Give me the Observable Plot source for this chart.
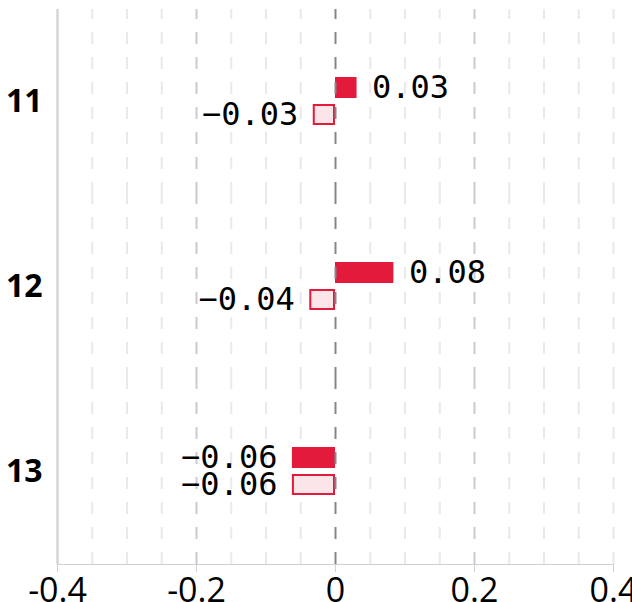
<!DOCTYPE html>
<html>
<head>
<meta charset="utf-8">
<script src="https://cdn.jsdelivr.net/npm/d3@7"></script>
<script src="https://cdn.jsdelivr.net/npm/@observablehq/plot@0.6"></script>
<style>
  html, body { margin: 0; padding: 0; background: #fff; }
  #chart svg { display: block; overflow: visible; }
  [aria-label^="fy-axis"] text { font-family: "Open Sans", sans-serif; font-weight: 700; font-size: 32px; fill: #000; }
  [aria-label^="x-axis"] text { font-family: "Open Sans", sans-serif; font-size: 34px; fill: #000; }
</style>
</head>
<body>
<div id="chart"></div>
<script>
// categories (row labels)
const categories = ["11", "12", "13"];
// series names
const seriesNames = ["A", "B"];
// values
const seriesA = [0.031, 0.084, -0.062];
const seriesB = [-0.032, -0.037, -0.062];
// axis ticks and grid lines
const xTicks = [-0.4, -0.2, 0, 0.2, 0.4];
const gridMinor = [-0.35, -0.3, -0.25, -0.15, -0.1, -0.05, 0.05, 0.1, 0.15, 0.25, 0.3, 0.35, 0.4];
const gridMajor = [-0.2, 0.2];
const gridZero = [0];
const frameLeft = [-0.4];

const rows = [];
categories.forEach((c, i) => {
  rows.push({cat: c, series: seriesNames[0], value: seriesA[i]});
  rows.push({cat: c, series: seriesNames[1], value: seriesB[i]});
});

const red = "#e31a3b";
const pink = "#fce5e9";
const fmt = d3.format(".2f");
const dash = "12,13";

const chart = Plot.plot({
  width: 632,
  height: 602,
  marginTop: 8,
  marginBottom: 38,
  marginLeft: 57,
  marginRight: 19,
  style: {background: "transparent", overflow: "visible", color: "#d0d0d6"},
  facet: {data: rows, y: "cat"},
  fy: {domain: categories, padding: 0, axis: "left", label: null, tickSize: 0, tickPadding: 15},
  x: {domain: [-0.4, 0.4], ticks: xTicks, tickFormat: d => String(d), tickSize: 8, tickPadding: 5, label: null, line: true},
  y: {domain: seriesNames, axis: null, paddingInner: 0.214, paddingOuter: 2.417},
  marks: [
    Plot.ruleX(gridMinor, {stroke: "#e8e8ee", strokeWidth: 2, strokeDasharray: dash, strokeDashoffset: 2}),
    Plot.ruleX(gridMajor, {stroke: "#cacad2", strokeWidth: 2, strokeDasharray: dash, strokeDashoffset: 2}),
    Plot.ruleX(frameLeft, {stroke: "#d6d6d6", strokeWidth: 2.5}),
    Plot.barX(rows, {filter: d => d.series === seriesNames[0], x: "value", y: "series", fill: red}),
    Plot.barX(rows, {filter: d => d.series === seriesNames[1], x: "value", y: "series", fill: pink, stroke: red, strokeWidth: 2, insetLeft: 1, insetRight: 1, insetTop: 1, insetBottom: 1}),
    Plot.ruleX(gridZero, {stroke: "#85858f", strokeWidth: 2, strokeDasharray: dash, strokeDashoffset: 2}),
    Plot.text(rows, {filter: d => d.value >= 0, x: "value", y: "series", text: d => fmt(d.value), textAnchor: "start", dx: 15, fontFamily: "DejaVu Sans Mono", fontSize: 32, fill: "#000"}),
    Plot.text(rows, {filter: d => d.value < 0, x: "value", y: "series", text: d => fmt(d.value), textAnchor: "end", dx: -15, fontFamily: "DejaVu Sans Mono", fontSize: 32, fill: "#000"})
  ]
});
document.getElementById("chart").appendChild(chart);
</script>
</body>
</html>
